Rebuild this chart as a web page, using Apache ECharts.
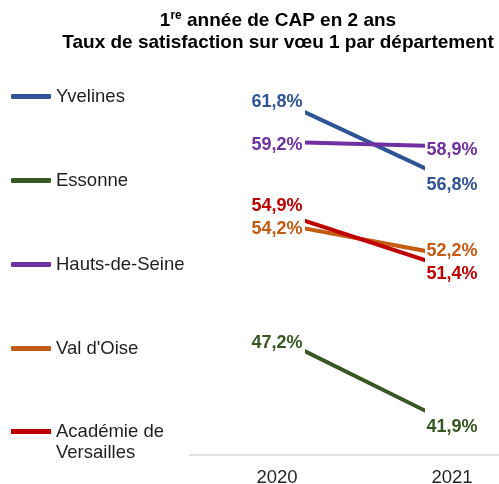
<!DOCTYPE html>
<html>
<head>
<meta charset="utf-8">
<script src="https://cdn.jsdelivr.net/npm/echarts@6/dist/echarts.min.js"></script>
<style>
  html, body { margin: 0; padding: 0; background: #fff; }
  #chart { width: 499px; height: 484px; }
</style>
</head>
<body>
<div id="chart"></div>
<script>
// données
var annees = [2020, 2021];
var departements = ['Yvelines', 'Essonne', 'Hauts-de-Seine', "Val d'Oise", 'Académie de Versailles'];
var yvelines = [61.8, 56.8];
var essonne = [47.2, 41.9];
var hautsDeSeine = [59.2, 58.9];
var valDOise = [54.2, 52.2];
var academie = [54.9, 51.4];
var valeurs = [yvelines, essonne, hautsDeSeine, valDOise, academie];

var couleurs = ['#2F5597', '#385723', '#7030A0', '#C55A11', '#C00000'];
// décalage vertical des étiquettes (px), [2020, 2021]
var decalages = [[3, 4], [6, 3], [3, 3], [6, -5], [-6, 5]];

var police = 'Liberation Sans, Arial, sans-serif';

function fmt(v) {
  return v.toFixed(1).replace('.', ',') + '%';
}

var chart = echarts.init(document.getElementById('chart'));

var series = [];
// lignes (grille 1, coupées aux bords de la grille)
departements.forEach(function (nom, i) {
  series.push({
    name: nom,
    type: 'line',
    xAxisIndex: 1,
    yAxisIndex: 1,
    clip: true,
    symbol: 'none',
    silent: true,
    color: couleurs[i],
    lineStyle: { width: 4, color: couleurs[i], cap: 'butt' },
    data: annees.map(function (a, j) { return [a, valeurs[i][j]]; })
  });
});
// étiquettes (grille 0)
departements.forEach(function (nom, i) {
  series.push({
    name: nom,
    type: 'scatter',
    xAxisIndex: 0,
    yAxisIndex: 0,
    z: 10,
    symbolSize: 1,
    itemStyle: { color: 'rgba(0,0,0,0)' },
    silent: true,
    data: annees.map(function (a, j) {
      return {
        value: [a, valeurs[i][j]],
        label: { offset: [0, decalages[i][j]] }
      };
    }),
    label: {
      show: true,
      position: 'inside',
      color: couleurs[i],
      textBorderWidth: 0,
      opacity: 1,
      fontFamily: police,
      fontSize: 18,
      fontWeight: 'bold',
      formatter: function (p) { return fmt(p.value[1]); }
    }
  });
});

var texteLegende = { fontFamily: police, fontSize: 18.5, lineHeight: 21, color: '#1f1f1f' };

var option = {
  animation: false,
  backgroundColor: '#fff',
  title: {
    text: '1{sup|re} année de CAP en 2 ans\nTaux de satisfaction sur vœu 1 par département',
    left: 273,
    top: 5,
    textAlign: 'center',
    textStyle: {
      fontFamily: police,
      fontSize: 19,
      fontWeight: 'bold',
      color: '#000',
      lineHeight: 22,
      rich: {
        sup: { fontFamily: police, fontSize: 12, fontWeight: 'bold', color: '#000', padding: [0, 0, 10, 0] }
      }
    }
  },
  legend: [{
    data: departements.slice(0, 4),
    orient: 'vertical',
    left: 6,
    top: 81,
    itemWidth: 40,
    itemHeight: 5,
    itemGap: 63,
    icon: 'roundRect',
    selectedMode: false,
    textStyle: texteLegende
  }, {
    // libellé sur deux lignes, trait aligné sur la première
    data: departements.slice(4),
    orient: 'vertical',
    left: 6,
    top: 416,
    itemWidth: 40,
    itemHeight: 26,
    icon: 'path://M0,0L40,0L40,5L0,5Z M0,26L0.01,26Z',
    selectedMode: false,
    formatter: function (n) { return n.replace('de ', 'de\n'); },
    textStyle: texteLegende
  }],
  grid: [
    { left: 189.5, width: 350, top: 47, bottom: 29, outerBoundsMode: 'none' },
    { left: 307, right: 76, top: 47, bottom: 29, outerBoundsMode: 'none' }
  ],
  xAxis: [{
    type: 'value',
    gridIndex: 0,
    min: 2019.5,
    max: 2021.5,
    axisLine: { show: true, lineStyle: { color: '#d9d9d9', width: 1.5 } },
    axisTick: { show: false },
    splitLine: { show: false },
    axisLabel: {
      customValues: annees,
      formatter: function (v) { return String(v); },
      fontFamily: police,
      fontSize: 18.5,
      color: '#262626',
      margin: 13
    }
  }, {
    type: 'value',
    gridIndex: 1,
    min: 2020.171,
    max: 2020.834,
    show: false
  }],
  yAxis: [{
    type: 'value', gridIndex: 0, min: 40, max: 65, show: false
  }, {
    type: 'value', gridIndex: 1, min: 40, max: 65, show: false
  }],
  series: series
};

chart.setOption(option);
</script>
</body>
</html>
